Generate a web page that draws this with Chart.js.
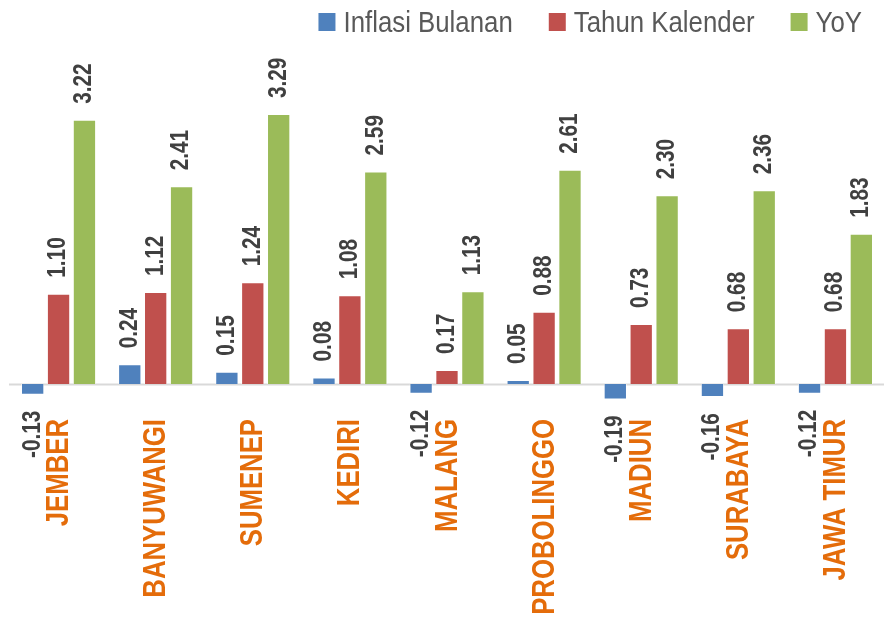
<!DOCTYPE html>
<html>
<head>
<meta charset="utf-8">
<script src="https://cdn.jsdelivr.net/npm/chart.js@4.4.0/dist/chart.umd.min.js"></script>
<style>
  html, body { margin: 0; padding: 0; background: #fff; }
  #wrap { width: 887px; height: 618px; }
</style>
</head>
<body>
<div id="wrap"><canvas id="inflasiChart" width="887" height="618"></canvas></div>
<script>
// === Data ===
const kota = ["JEMBER", "BANYUWANGI", "SUMENEP", "KEDIRI", "MALANG", "PROBOLINGGO", "MADIUN", "SURABAYA", "JAWA TIMUR"];
const inflasiBulanan = [-0.13, 0.24, 0.15, 0.08, -0.12, 0.05, -0.19, -0.16, -0.12];
const tahunKalender = [1.10, 1.12, 1.24, 1.08, 0.17, 0.88, 0.73, 0.68, 0.68];
const yoy = [3.22, 2.41, 3.29, 2.59, 1.13, 2.61, 2.30, 2.36, 1.83];

const FONT = '"Liberation Sans", Arial, sans-serif';
const NARROW = 0.83; // squeeze to look like Arial Narrow

// draw text rotated -90deg and squeezed along its length
function drawNarrowUp(ctx, text, x, y, align, squeeze) {
  ctx.save();
  ctx.translate(x, y);
  ctx.rotate(-Math.PI / 2);
  ctx.scale(squeeze, 1);
  ctx.textAlign = align;
  ctx.textBaseline = "middle";
  ctx.fillText(text, 0, 0);
  ctx.restore();
}

// === Zero line ===
const zeroLine = {
  id: "zeroLine",
  beforeDatasetsDraw(chart) {
    const { ctx, chartArea, scales } = chart;
    const y = Math.round(scales.y.getPixelForValue(0)) + 0.5;
    ctx.save();
    ctx.strokeStyle = "#D9D9D9";
    ctx.lineWidth = 2;
    ctx.beginPath();
    ctx.moveTo(chartArea.left - 1, y);
    ctx.lineTo(chartArea.right, y);
    ctx.stroke();
    ctx.restore();
  },
};

// === Value labels (rotated) ===
const barLabels = {
  id: "barLabels",
  afterDatasetsDraw(chart) {
    const ctx = chart.ctx;
    ctx.save();
    ctx.font = "bold 25px " + FONT;
    ctx.fillStyle = "#404040";
    chart.data.datasets.forEach((ds, i) => {
      chart.getDatasetMeta(i).data.forEach((bar, j) => {
        const v = ds.data[j];
        if (v >= 0) drawNarrowUp(ctx, v.toFixed(2), bar.x, bar.y - 16, "left", NARROW);
        else drawNarrowUp(ctx, v.toFixed(2), bar.x, bar.y + 16, "right", NARROW);
      });
    });
    ctx.restore();
  },
};

// === Category labels (rotated, orange) ===
const catLabels = {
  id: "catLabels",
  afterDraw(chart) {
    const { ctx, scales, chartArea } = chart;
    ctx.save();
    ctx.font = "bold 31px " + FONT;
    ctx.fillStyle = "#E46C0A";
    chart.data.labels.forEach((lab, i) => {
      drawNarrowUp(ctx, lab, scales.x.getPixelForTick(i) + 1, chartArea.bottom + 9, "right", NARROW);
    });
    ctx.restore();
  },
};

// === Legend at top right ===
const topLegend = {
  id: "topLegend",
  afterDraw(chart) {
    const ctx = chart.ctx;
    const sq = 0.89;
    ctx.save();
    ctx.font = "29px " + FONT;
    const box = 17, gapText = 8, gapItem = 36;
    const widths = chart.data.datasets.map(ds => box + gapText + ctx.measureText(ds.label).width * sq);
    const total = widths.reduce((a, b) => a + b, 0) + gapItem * (widths.length - 1);
    let x = 862 - total;
    chart.data.datasets.forEach((ds, i) => {
      ctx.fillStyle = ds.backgroundColor;
      ctx.fillRect(x, 13, box, box + 1);
      ctx.fillStyle = "#595959";
      ctx.save();
      ctx.translate(x + box + gapText, 32);
      ctx.scale(sq, 1);
      ctx.textAlign = "left";
      ctx.textBaseline = "alphabetic";
      ctx.fillText(ds.label, 0, 0);
      ctx.restore();
      x += widths[i] + gapItem;
    });
    ctx.restore();
  },
};

const ctx = document.getElementById("inflasiChart").getContext("2d");
new Chart(ctx, {
  type: "bar",
  data: {
    labels: kota,
    datasets: [
      { label: "Inflasi Bulanan", data: inflasiBulanan, backgroundColor: "#4F81BD" },
      { label: "Tahun Kalender", data: tahunKalender, backgroundColor: "#C0504D" },
      { label: "YoY", data: yoy, backgroundColor: "#9BBB59" },
    ].map(d => Object.assign(d, {
      borderColor: "rgba(255,255,255,0.5)",
      borderWidth: 1,
      barPercentage: 0.9,
      categoryPercentage: 0.8,
    })),
  },
  options: {
    responsive: false,
    animation: false,
    layout: { padding: { top: 50, left: 10, right: 3, bottom: 200 } },
    plugins: {
      legend: { display: false },
      tooltip: { enabled: false },
    },
    scales: {
      x: {
        grid: { display: false },
        border: { display: false },
        ticks: { display: false },
      },
      y: {
        display: false,
        min: -0.317,
        max: 4.07,
      },
    },
  },
  plugins: [zeroLine, barLabels, catLabels, topLegend],
});
</script>
</body>
</html>
